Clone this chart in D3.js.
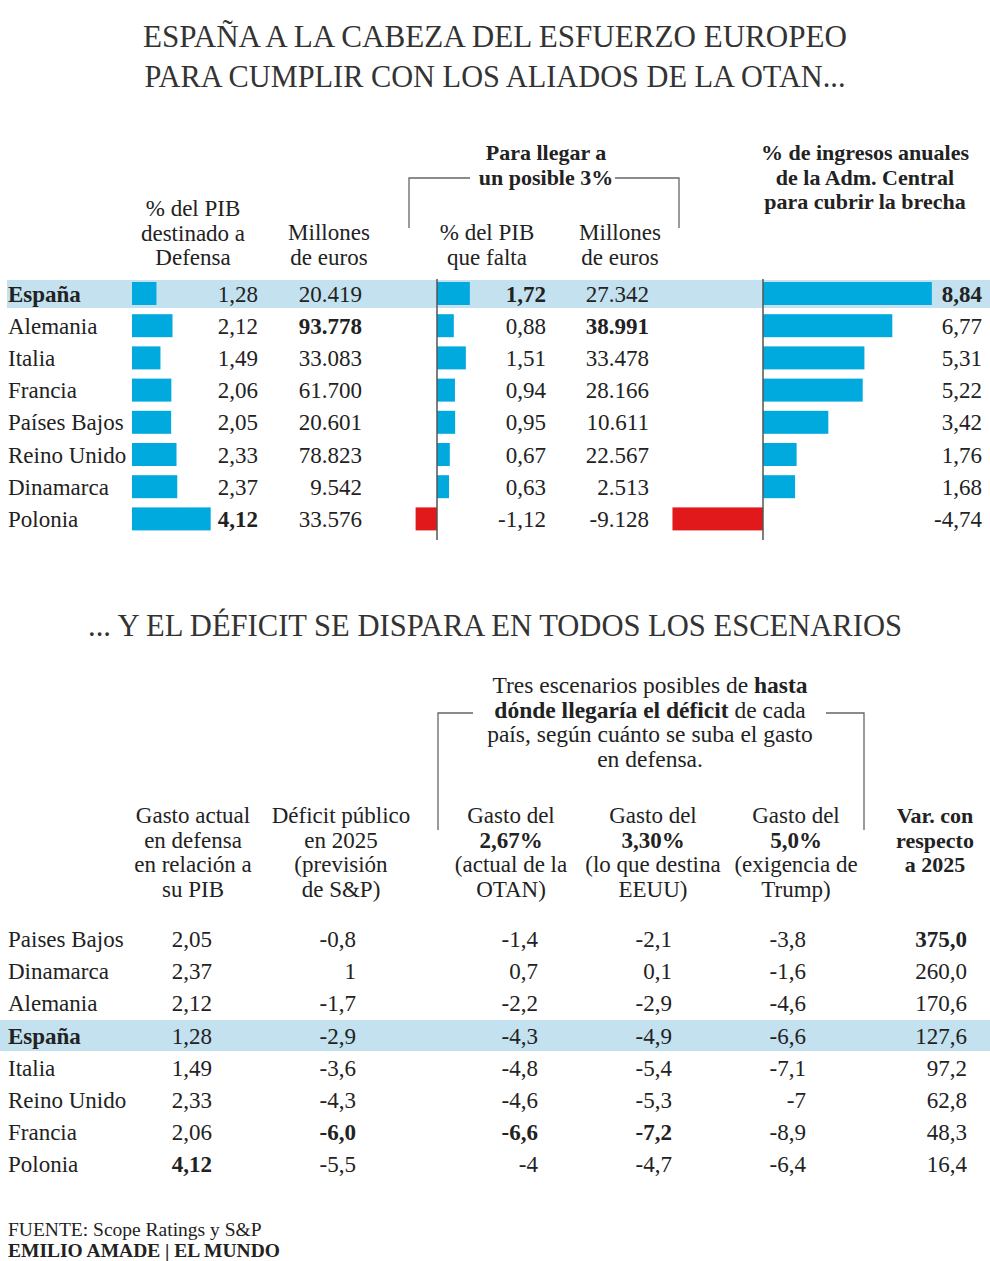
<!DOCTYPE html>
<html><head><meta charset="utf-8">
<script src="https://cdn.jsdelivr.net/npm/d3@7"></script>
<style>body{margin:0;background:#fff}svg{display:block}text{font-family:"Liberation Serif",serif;fill:#222}</style>
</head><body>
<script>
// ---- Top table data ----
const countriesTop = ["España","Alemania","Italia","Francia","Países Bajos","Reino Unido","Dinamarca","Polonia"];
const pibDefensa = [1.28,2.12,1.49,2.06,2.05,2.33,2.37,4.12];
const millonesDefensa = ["20.419","93.778","33.083","61.700","20.601","78.823","9.542","33.576"];
const pibFalta = [1.72,0.88,1.51,0.94,0.95,0.67,0.63,-1.12];
const millonesFalta = ["27.342","38.991","33.478","28.166","10.611","22.567","2.513","-9.128"];
const ingresosPct = [8.84,6.77,5.31,5.22,3.42,1.76,1.68,-4.74];
const boldTop = {pib:[7], mill:[1], falta:[0], millF:[1], ingr:[0]};

// ---- Bottom table data ----
const countriesBot = ["Paises Bajos","Dinamarca","Alemania","España","Italia","Reino Unido","Francia","Polonia"];
const gastoActual = ["2,05","2,37","2,12","1,28","1,49","2,33","2,06","4,12"];
const deficit2025 = ["-0,8","1","-1,7","-2,9","-3,6","-4,3","-6,0","-5,5"];
const esc267 = ["-1,4","0,7","-2,2","-4,3","-4,8","-4,6","-6,6","-4"];
const esc330 = ["-2,1","0,1","-2,9","-4,9","-5,4","-5,3","-7,2","-4,7"];
const esc500 = ["-3,8","-1,6","-4,6","-6,6","-7,1","-7","-8,9","-6,4"];
const varRespecto = ["375,0","260,0","170,6","127,6","97,2","62,8","48,3","16,4"];
const boldBot = {gasto:[7], def:[6], e267:[6], e330:[6], e500:[], vr:[0]};

const BLUE="#00aadf", RED="#e1191a", BAND="#c3e1ee", LINE="#555";
const fmt = v => d3.format(".2f")(v).replace(".", ",").replace("\u2212","-");

const svg = d3.select("body").append("svg").attr("width",990).attr("height",1261);

function lines(x, y0, step, arr, size, anchor="middle", weight="normal", fill="#222", lens){
  const t = svg.append("text").attr("x",x).attr("y",y0).attr("text-anchor",anchor)
    .style("font-size",size+"px").style("font-weight",weight).style("fill",fill);
  arr.forEach((ln,i)=>{
    const parts = Array.isArray(ln)?ln:[[ln,false]];
    parts.forEach((p,j)=>{
      const ts = t.append("tspan").text(p[0]).style("font-weight", p[1]?"bold":weight);
      if(j===0) ts.attr("x",x).attr("y", y0+i*step);
      if(lens && lens[i]) ts.attr("textLength",lens[i]).attr("lengthAdjust","spacingAndGlyphs");
    });
  });
  return t;
}

// Titles
lines(495, 47, 40, ["ESPAÑA A LA CABEZA DEL ESFUERZO EUROPEO","PARA CUMPLIR CON LOS ALIADOS DE LA OTAN..."], 31, "middle","normal","#333",[704,701]);
lines(495, 636, 40, ["... Y EL DÉFICIT SE DISPARA EN TODOS LOS ESCENARIOS"], 31, "middle","normal","#333",[814]);

// ---- Top table ----
const yTop = d3.scalePoint().domain(countriesTop).range([293.5, 293.5+7*32.2]);
const BH = 23;
const u = 19.1;
const x1 = d3.scaleLinear().domain([0,1]).range([132,132+u]);
const x2 = d3.scaleLinear().domain([0,1]).range([437,437+u]);
const x3 = d3.scaleLinear().domain([0,1]).range([763,763+u]);

// highlight band
svg.append("rect").attr("x",7).attr("y",yTop("España")-13.5).attr("width",983).attr("height",28).attr("fill",BAND);

// headers
lines(193, 216, 24.5, ["% del PIB","destinado a","Defensa"], 23);
lines(329, 240, 24.5, ["Millones","de euros"], 23);
lines(487, 240, 24.5, ["% del PIB","que falta"], 23);
lines(620, 240, 24.5, ["Millones","de euros"], 23);
lines(546, 160, 24.5, ["Para llegar a","un posible 3%"], 22, "middle","bold");
lines(865, 160, 24.5, ["% de ingresos anuales","de la Adm. Central","para cubrir la brecha"], 22, "middle","bold");
// bracket
const br = svg.append("g").attr("fill","none").attr("stroke","#666").attr("stroke-width",1.3);
br.append("path").attr("d","M409,228V178H470");
br.append("path").attr("d","M615,178H679V228");

// country names
svg.append("g").selectAll("text").data(countriesTop).join("text")
  .attr("x",8).attr("y",d=>yTop(d)).attr("dy","0.35em").style("font-size","23px")
  .style("font-weight",(d,i)=>i===0?"bold":"normal").text(d=>d);

function barCol(vals, xs, boldIdx, xText){
  const g = svg.append("g");
  g.selectAll("rect").data(vals).join("rect")
    .attr("x",d=>Math.min(xs(0),xs(d))).attr("width",d=>Math.abs(xs(d)-xs(0)))
    .attr("y",(d,i)=>yTop(countriesTop[i])-BH/2).attr("height",BH)
    .attr("fill",d=>d<0?RED:BLUE);
  g.selectAll("text").data(vals).join("text")
    .attr("x",xText).attr("y",(d,i)=>yTop(countriesTop[i])).attr("dy","0.35em")
    .attr("text-anchor","end").style("font-size","23px")
    .style("font-weight",(d,i)=>boldIdx.includes(i)?"bold":"normal").text(fmt);
}
function textCol(vals, xText, boldIdx, yS, cats){
  svg.append("g").selectAll("text").data(vals).join("text")
    .attr("x",xText).attr("y",(d,i)=>yS(cats[i])).attr("dy","0.35em")
    .attr("text-anchor","end").style("font-size","23px")
    .style("font-weight",(d,i)=>boldIdx.includes(i)?"bold":"normal").text(d=>d);
}
barCol(pibDefensa, x1, boldTop.pib, 258);
textCol(millonesDefensa, 362, boldTop.mill, yTop, countriesTop);
barCol(pibFalta, x2, boldTop.falta, 546);
textCol(millonesFalta, 649, boldTop.millF, yTop, countriesTop);
barCol(ingresosPct, x3, boldTop.ingr, 982);

// axes lines
svg.append("line").attr("x1",x2(0)).attr("x2",x2(0)).attr("y1",279).attr("y2",540).attr("stroke",LINE).attr("stroke-width",1.5);
svg.append("line").attr("x1",x3(0)).attr("x2",x3(0)).attr("y1",279).attr("y2",540).attr("stroke",LINE).attr("stroke-width",1.5);

// ---- Bottom table ----
lines(650, 693, 24.5, [[["Tres escenarios posibles de ",false],["hasta",true]],
  [["dónde llegaría el déficit",true],[" de cada",false]],
  "país, según cuánto se suba el gasto","en defensa."], 23.5);
const br2 = svg.append("g").attr("fill","none").attr("stroke","#666").attr("stroke-width",1.3);
br2.append("path").attr("d","M438,830V713H473");
br2.append("path").attr("d","M826,713H864V830");

lines(193, 823, 24.5, ["Gasto actual","en defensa","en relación a","su PIB"], 23);
lines(341, 823, 24.5, ["Déficit público","en 2025","(previsión","de S&P)"], 23);
lines(511, 823, 24.5, ["Gasto del",[["2,67%",true]],"(actual de la","OTAN)"], 23);
lines(653, 823, 24.5, ["Gasto del",[["3,30%",true]],"(lo que destina","EEUU)"], 23);
lines(796, 823, 24.5, ["Gasto del",[["5,0%",true]],"(exigencia de","Trump)"], 23);
lines(935, 823, 24.5, ["Var. con","respecto","a  2025"], 22, "middle","bold");

const yBot = d3.scalePoint().domain(countriesBot).range([939, 939+7*32.15]);
svg.insert("rect","g").attr("x",0).attr("y",yBot("España")-15.5).attr("width",990).attr("height",31).attr("fill",BAND);
svg.append("g").selectAll("text").data(countriesBot).join("text")
  .attr("x",8).attr("y",d=>yBot(d)).attr("dy","0.35em").style("font-size","23px")
  .style("font-weight",d=>d==="España"?"bold":"normal").text(d=>d);
textCol(gastoActual, 212, boldBot.gasto, yBot, countriesBot);
textCol(deficit2025, 356, boldBot.def, yBot, countriesBot);
textCol(esc267, 538, boldBot.e267, yBot, countriesBot);
textCol(esc330, 672, boldBot.e330, yBot, countriesBot);
textCol(esc500, 806, boldBot.e500, yBot, countriesBot);
textCol(varRespecto, 967, boldBot.vr, yBot, countriesBot);

// footer
lines(8, 1236, 20, ["FUENTE: Scope Ratings y S&P"], 19.5, "start");
lines(8, 1257, 20, ["EMILIO AMADE | EL MUNDO"], 19.5, "start","bold");
</script>
</body></html>
